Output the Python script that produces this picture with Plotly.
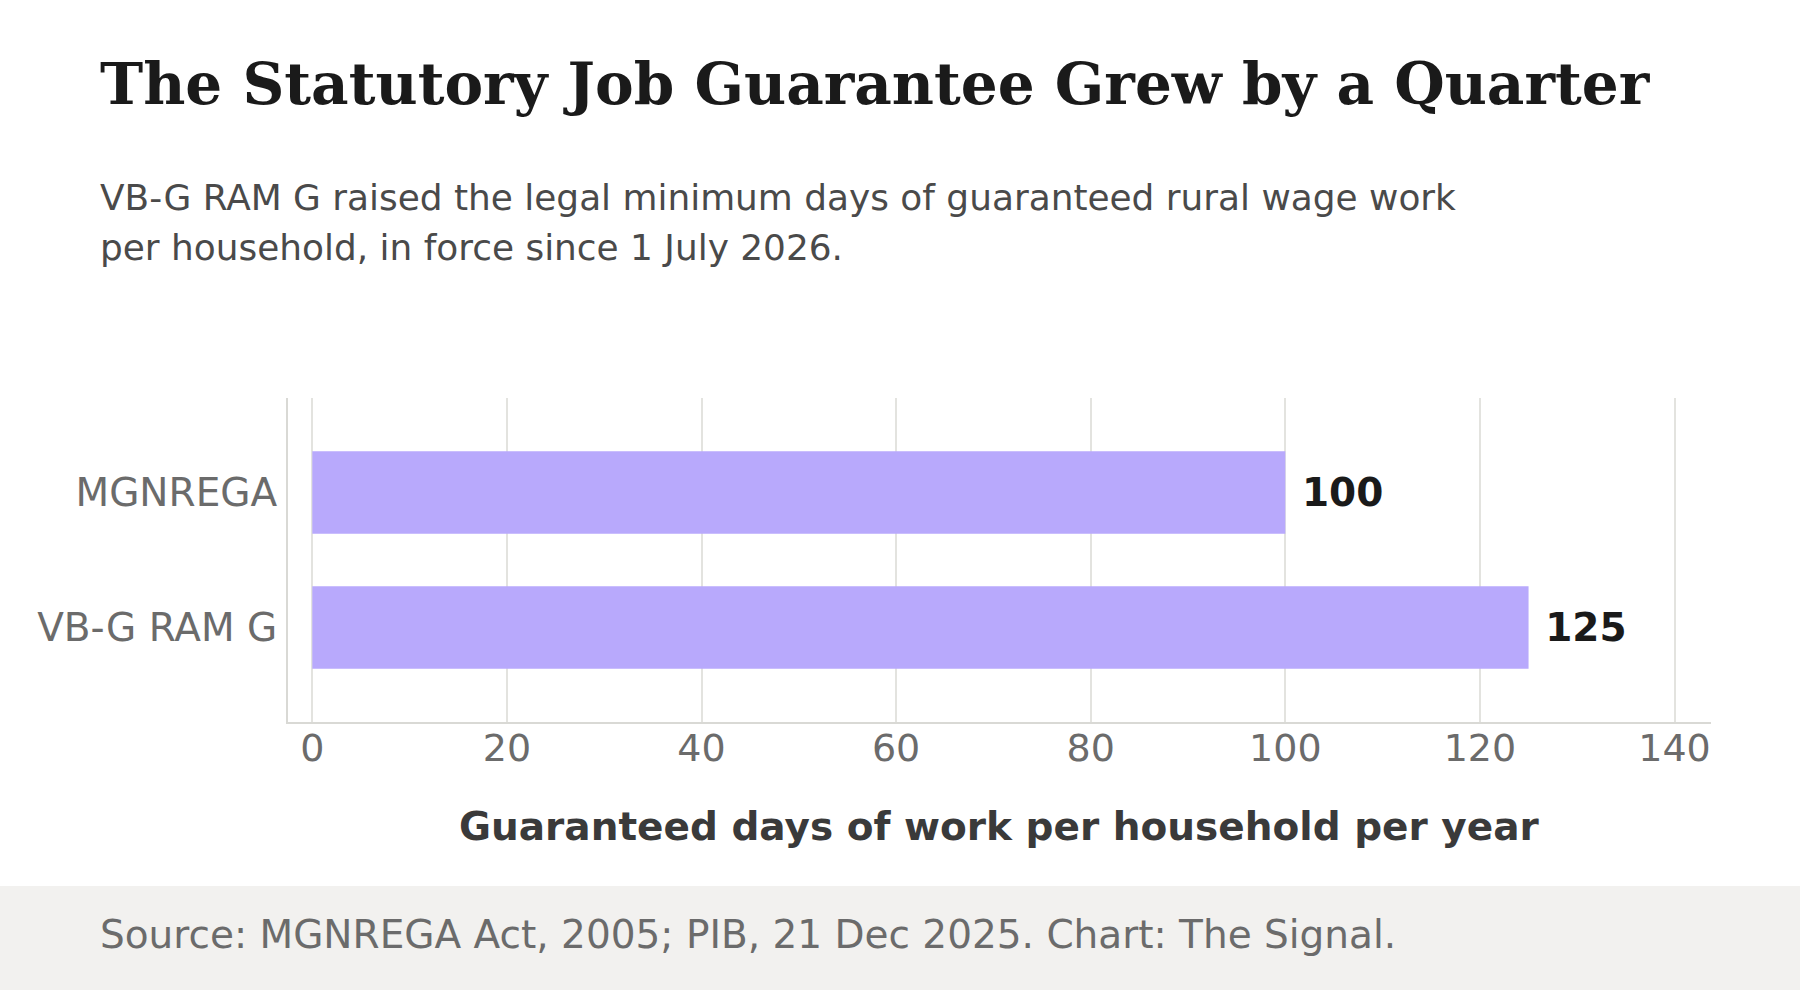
import plotly.graph_objects as go

categories = ["MGNREGA", "VB-G RAM G"]
days = [100, 125]
x_ticks = [0, 20, 40, 60, 80, 100, 120, 140]

title = "The Statutory Job Guarantee Grew by a Quarter"
subtitle_lines = [
    "VB-G RAM G raised the legal minimum days of guaranteed rural wage work",
    "per household, in force since 1 July 2026.",
]
x_title = "Guaranteed days of work per household per year"
source = "Source: MGNREGA Act, 2005; PIB, 21 Dec 2025. Chart: The Signal."

W, H = 1800, 990
L, R, T, B = 288, 89, 398, 268
PW, PH = W - L - R, H - T - B


def px(x):
    return (x - L) / PW


def py(y):
    return (H - B - y) / PH


SANS = "DejaVu Sans, Verdana, sans-serif"
SERIF = "DejaVu Serif, Georgia, serif"

fig = go.Figure(
    go.Bar(
        x=days,
        y=categories,
        orientation="h",
        width=0.61,
        marker=dict(color="#B8A9FC", line=dict(width=0)),
        text=[str(v) for v in days],
        texttemplate="\u00a0%{text}",
        textposition="outside",
        textfont=dict(family=SANS, size=39, color="#1a1a1a", weight="bold"),
        cliponaxis=False,
        hoverinfo="skip",
    )
)

fig.update_layout(
    width=W,
    height=H,
    margin=dict(l=L, r=R, t=T, b=B, pad=0),
    paper_bgcolor="#ffffff",
    plot_bgcolor="#ffffff",
    showlegend=False,
    font=dict(family=SANS),
    xaxis=dict(
        range=[-2.5, 143.75],
        tickvals=x_ticks,
        ticktext=[str(v) for v in x_ticks],
        tickfont=dict(family=SANS, size=38, color="#6b6b6b"),
        showgrid=True,
        gridcolor="#e3e3df",
        gridwidth=1.5,
        zeroline=False,
        showline=True,
        linecolor="#d9d9d5",
        linewidth=2,
        ticks="",
        ticklabelstandoff=-9,
        fixedrange=True,
    ),
    yaxis=dict(
        categoryorder="array",
        categoryarray=categories,
        range=[1.7, -0.7],
        tickfont=dict(family=SANS, size=39, color="#6b6b6b"),
        showgrid=False,
        zeroline=False,
        showline=True,
        linecolor="#d9d9d5",
        linewidth=2,
        ticks="",
        ticklabelstandoff=1,
        fixedrange=True,
    ),
)

annotations = [
    dict(text="<b>" + title + "</b>", x=px(98), y=py(84), xanchor="left", yanchor="middle",
         font=dict(family=SERIF, size=58, color="#1a1a1a")),
    dict(text=subtitle_lines[0], x=px(98), y=py(198), xanchor="left", yanchor="middle",
         font=dict(family=SANS, size=35.9, color="#4a4a4a")),
    dict(text=subtitle_lines[1], x=px(98), y=py(248), xanchor="left", yanchor="middle",
         font=dict(family=SANS, size=35.9, color="#4a4a4a")),
    dict(text="<b>" + x_title + "</b>", x=0.5, y=py(826), xanchor="center", yanchor="middle",
         font=dict(family=SANS, size=39, color="#3a3a3a")),
    dict(text=source, x=px(98), y=py(934), xanchor="left", yanchor="middle",
         font=dict(family=SANS, size=39, color="#6b6b6b")),
]
for a in annotations:
    a.update(xref="paper", yref="paper", showarrow=False)
fig.update_layout(annotations=annotations)

fig.add_shape(type="rect", xref="paper", yref="paper",
              x0=px(0), x1=px(W), y0=py(886), y1=py(H + 2),
              fillcolor="#f2f1ef", line=dict(width=0), layer="below")

fig.write_html("out.html", config={"displayModeBar": False})
